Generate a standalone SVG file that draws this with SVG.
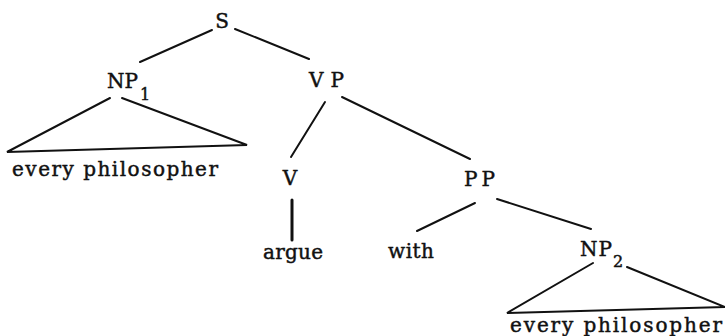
<svg xmlns="http://www.w3.org/2000/svg" width="725" height="336" viewBox="0 0 725 336">
<style>
.lbl,.word,.sub{font-family:"DejaVu Serif","Liberation Serif",serif;fill:#111;stroke:#111;stroke-width:0.45}
.lbl{font-size:20px}
.word{font-size:20px}
.sub{font-size:16px}
.e{stroke:#111;stroke-width:2;fill:none;stroke-linecap:round}
</style>
<rect width="725" height="336" fill="#fff"/>
<g id="connectors">
<line class="e" x1="212" y1="30" x2="140" y2="62"/>
<line class="e" x1="235" y1="29" x2="309" y2="59"/>
<line class="e" x1="325" y1="102" x2="291" y2="157"/>
<line class="e" x1="342" y1="97" x2="470" y2="159"/>
<line class="e" x1="292" y1="200" x2="292" y2="240" style="stroke-width:3"/>
<line class="e" x1="475" y1="203" x2="417" y2="231"/>
<line class="e" x1="497" y1="199" x2="591" y2="229"/>
</g>
<g id="S"><text class="lbl" x="222" y="28" text-anchor="middle">S</text></g>
<g id="NP1">
<text class="lbl" x="107" y="88" textLength="31" lengthAdjust="spacing">NP</text>
<text class="sub" x="140" y="100">1</text>
<path class="e" d="M110,98 L7,152 L247,145 L122,98"/>
</g>
<g id="VP"><text class="lbl" x="309" y="87" textLength="35" lengthAdjust="spacing">VP</text></g>
<g id="every-philosopher-1"><text class="word" x="12" y="176" textLength="206" lengthAdjust="spacing">every philosopher</text></g>
<g id="V"><text class="lbl" x="290" y="185" text-anchor="middle">V</text></g>
<g id="argue"><text class="word" x="263" y="259" textLength="60" lengthAdjust="spacing">argue</text></g>
<g id="PP"><text class="lbl" x="464" y="186" textLength="31" lengthAdjust="spacing">PP</text></g>
<g id="with"><text class="word" x="388" y="258" textLength="46" lengthAdjust="spacing">with</text></g>
<g id="NP2">
<text class="lbl" x="580" y="256" textLength="32" lengthAdjust="spacing">NP</text>
<text class="sub" x="613" y="267">2</text>
<path class="e" d="M593,263 L507,313 L725,307 L627,267"/>
</g>
<g id="every-philosopher-2"><text class="word" x="510" y="332" textLength="212" lengthAdjust="spacing">every philosopher</text></g>
</svg>
